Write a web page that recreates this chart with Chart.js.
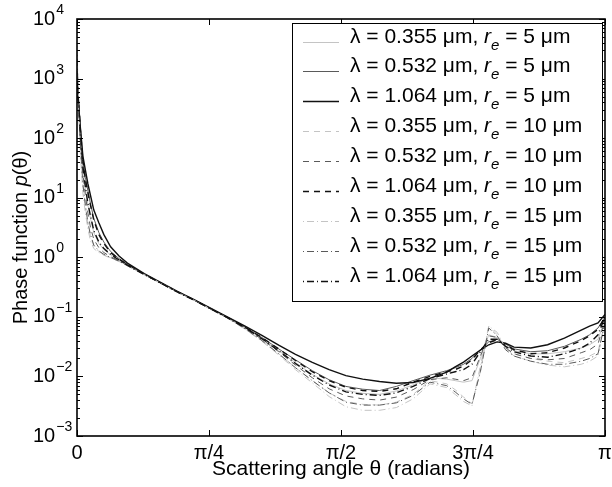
<!DOCTYPE html>
<html>
<head>
<meta charset="utf-8">
<script src="https://cdn.jsdelivr.net/npm/chart.js@4.4.1/dist/chart.umd.min.js"></script>
<style>
  html, body { margin: 0; padding: 0; background: #fff; }
  canvas { display: block; }
</style>
</head>
<body>
<canvas id="c" width="612" height="487"></canvas>
<script>
// ---- data ----
const theta = [0, 0.01, 0.02, 0.035, 0.05, 0.065, 0.08, 0.1, 0.13, 0.16, 0.2, 0.25, 0.3,
  0.4, 0.5, 0.6, 0.7, 0.8, 0.9,
  1.0, 1.1, 1.2, 1.3, 1.4, 1.5, 1.6, 1.7, 1.8, 1.9, 2.0, 2.1, 2.2,
  2.25, 2.3, 2.35, 2.4, 2.45, 2.5, 2.55, 2.6,
  2.7, 2.8, 2.9, 3.0, 3.05, 3.1, 3.1416];

const p_0355_r5 = [1200, 400, 120, 32, 14, 7.5, 4.5, 2.6, 1.7, 1.35, 1.1, 0.9, 0.74,
  0.52, 0.37, 0.26, 0.19, 0.135, 0.095,
  0.066, 0.043, 0.027, 0.017, 0.0108, 0.0075, 0.0058, 0.0052, 0.005, 0.0057, 0.0072, 0.0095, 0.009,
  0.0085, 0.008, 0.0085, 0.02, 0.05, 0.045, 0.033, 0.027,
  0.024, 0.024, 0.026, 0.03, 0.034, 0.042, 0.09];
const p_0532_r5 = [900, 400, 150, 45, 22, 13, 8, 4.5, 2.6, 1.8, 1.25, 0.95, 0.76,
  0.52, 0.37, 0.26, 0.19, 0.135, 0.096,
  0.067, 0.045, 0.029, 0.019, 0.0125, 0.0088, 0.0068, 0.0061, 0.0058, 0.0068, 0.0085, 0.0105, 0.0125,
  0.014, 0.016, 0.020, 0.028, 0.038, 0.042, 0.035, 0.029,
  0.026, 0.027, 0.032, 0.042, 0.05, 0.065, 0.1];
const p_1064_r5 = [700, 350, 150, 50, 29, 17, 11, 6.2, 3.8, 2.4, 1.5, 1.05, 0.8,
  0.53, 0.375, 0.265, 0.192, 0.137, 0.098,
  0.070, 0.049, 0.0335, 0.0235, 0.0172, 0.013, 0.0103, 0.009, 0.0082, 0.0077, 0.0079, 0.0093, 0.0118,
  0.0145, 0.0174, 0.022, 0.0277, 0.034, 0.038, 0.036, 0.031,
  0.030, 0.034, 0.044, 0.060, 0.07, 0.079, 0.11];
const p_0355_r10 = [2500, 350, 70, 16, 7, 3.6, 2.3, 1.55, 1.25, 1.1, 0.98, 0.86, 0.72,
  0.51, 0.365, 0.258, 0.188, 0.133, 0.094,
  0.063, 0.040, 0.024, 0.014, 0.0085, 0.0053, 0.0038, 0.0034, 0.0033, 0.0037, 0.005, 0.0085, 0.0075,
  0.006, 0.0045, 0.0035, 0.012, 0.07, 0.05, 0.03, 0.024,
  0.02, 0.018, 0.017, 0.02, 0.022, 0.026, 0.085];
const p_0532_r10 = [1500, 380, 100, 25, 11, 5.5, 3.2, 2.0, 1.45, 1.2, 1.02, 0.88, 0.73,
  0.515, 0.368, 0.26, 0.189, 0.134, 0.095,
  0.065, 0.042, 0.026, 0.0155, 0.0095, 0.0062, 0.0047, 0.0042, 0.004, 0.0045, 0.006, 0.0088, 0.0095,
  0.009, 0.0085, 0.0095, 0.022, 0.048, 0.045, 0.03, 0.024,
  0.02, 0.019, 0.02, 0.025, 0.028, 0.035, 0.09];
const p_1064_r10 = [850, 380, 140, 42, 20, 12, 7.5, 4.2, 2.4, 1.7, 1.2, 0.93, 0.75,
  0.52, 0.37, 0.262, 0.19, 0.135, 0.096,
  0.067, 0.045, 0.029, 0.0185, 0.012, 0.0085, 0.0066, 0.0058, 0.0056, 0.0062, 0.008, 0.0100, 0.012,
  0.013, 0.015, 0.019, 0.028, 0.037, 0.041, 0.034, 0.028,
  0.024, 0.025, 0.03, 0.04, 0.048, 0.062, 0.1];
const p_0355_r15 = [3500, 300, 55, 12, 5.5, 3.0, 1.9, 1.4, 1.2, 1.08, 0.97, 0.85, 0.72,
  0.51, 0.362, 0.256, 0.187, 0.132, 0.093,
  0.062, 0.039, 0.023, 0.013, 0.0078, 0.0046, 0.0031, 0.0027, 0.0027, 0.003, 0.0042, 0.0075, 0.0065,
  0.005, 0.0038, 0.0032, 0.015, 0.07, 0.055, 0.03, 0.022,
  0.018, 0.0155, 0.0145, 0.016, 0.018, 0.022, 0.085];
const p_0532_r15 = [2500, 350, 75, 17, 7.5, 3.8, 2.4, 1.6, 1.28, 1.12, 0.99, 0.86, 0.72,
  0.51, 0.364, 0.257, 0.188, 0.133, 0.094,
  0.063, 0.040, 0.024, 0.014, 0.0085, 0.0053, 0.0037, 0.0033, 0.0033, 0.0036, 0.0048, 0.008, 0.007,
  0.0055, 0.0042, 0.0034, 0.012, 0.065, 0.048, 0.028, 0.022,
  0.018, 0.016, 0.016, 0.018, 0.02, 0.024, 0.08];
const p_1064_r15 = [1000, 380, 120, 34, 15, 8, 5, 2.8, 1.8, 1.4, 1.12, 0.9, 0.74,
  0.515, 0.366, 0.259, 0.189, 0.134, 0.095,
  0.066, 0.043, 0.027, 0.0165, 0.0105, 0.0072, 0.0055, 0.005, 0.0048, 0.0053, 0.0068, 0.0092, 0.011,
  0.012, 0.013, 0.016, 0.026, 0.042, 0.042, 0.032, 0.026,
  0.022, 0.021, 0.024, 0.03, 0.036, 0.05, 0.1];

const wavelengths = ['0.355', '0.532', '1.064'];
const radii = ['5', '10', '15'];
const xTickValues = [0, Math.PI / 4, Math.PI / 2, 3 * Math.PI / 4, Math.PI];
const xTickLabels = ['0', 'π/4', 'π/2', '3π/4', 'π'];
const yTickExponents = [-3, -2, -1, 0, 1, 2, 3, 4];

// ---- styles ----
const colors = ['#c4c4c4', '#5a5a5a', '#111111'];
const widths = [1, 1, 1.4];
const dashes = [[], [6, 5], [1, 3, 7, 3]];
const seriesByRadius = [
  [p_0355_r5, p_0532_r5, p_1064_r5],
  [p_0355_r10, p_0532_r10, p_1064_r10],
  [p_0355_r15, p_0532_r15, p_1064_r15]
];

const datasets = [];
seriesByRadius.forEach((group, ri) => {
  group.forEach((arr, wi) => {
    datasets.push({
      label: 'λ = ' + wavelengths[wi] + ' μm, r_e = ' + radii[ri] + ' μm',
      lam: wavelengths[wi], rad: radii[ri],
      data: theta.map((t, i) => ({ x: t, y: arr[i] })),
      borderColor: colors[wi],
      borderWidth: widths[wi],
      borderDash: dashes[ri],
      pointRadius: 0,
      fill: false,
      tension: 0,
      order: 20 - datasets.length
    });
  });
});

const FONT = '"Liberation Sans", Arial, Helvetica, sans-serif';

const deco = {
  id: 'deco',
  afterDraw(chart) {
    const ctx = chart.ctx;
    const a = chart.chartArea;
    const xs = chart.scales.x, ys = chart.scales.y;
    ctx.save();
    ctx.setLineDash([]);
    ctx.strokeStyle = '#000';
    ctx.fillStyle = '#000';

    // x ticks (inward, bottom and top)
    ctx.lineWidth = 1;
    xTickValues.forEach(v => {
      const px = Math.round(xs.getPixelForValue(v)) + 0.5;
      ctx.beginPath();
      ctx.moveTo(px, a.bottom); ctx.lineTo(px, a.bottom - 6);
      ctx.moveTo(px, a.top); ctx.lineTo(px, a.top + 6);
      ctx.stroke();
    });
    // y ticks: major + minor (inward, left and right)
    yTickExponents.forEach(e => {
      for (let m = 1; m <= 9; m++) {
        const v = m * Math.pow(10, e);
        if (v > ys.max * 1.0001) continue;
        const py = Math.round(ys.getPixelForValue(v)) + 0.5;
        const len = m === 1 ? 6 : 3;
        ctx.beginPath();
        ctx.moveTo(a.left, py); ctx.lineTo(a.left + len, py);
        ctx.moveTo(a.right, py); ctx.lineTo(a.right - len, py);
        ctx.stroke();
      }
    });

    // frame
    ctx.lineWidth = 1.6;
    ctx.strokeRect(a.left, a.top, a.right - a.left, a.bottom - a.top);

    // x tick labels
    ctx.font = '20px ' + FONT;
    ctx.textAlign = 'center';
    ctx.textBaseline = 'top';
    xTickValues.forEach((v, i) => {
      ctx.fillText(xTickLabels[i], xs.getPixelForValue(v), a.bottom + 7);
    });

    // y tick labels 10^e
    ctx.textAlign = 'left';
    yTickExponents.forEach(e => {
      const py = ys.getPixelForValue(Math.pow(10, e));
      ctx.font = '20px ' + FONT;
      ctx.textBaseline = 'middle';
      ctx.fillText('10', 33, py);
      const w = ctx.measureText('10').width;
      ctx.font = '14px ' + FONT;
      ctx.textBaseline = 'alphabetic';
      ctx.fillText(e < 0 ? '−' + (-e) : String(e), 33 + w + 1, py - 5);
    });

    // x axis title
    ctx.font = '21px ' + FONT;
    ctx.textAlign = 'center';
    ctx.textBaseline = 'middle';
    ctx.fillText('Scattering angle θ (radians)', (a.left + a.right) / 2, 469);

    // y axis title (rotated) with italic p
    ctx.save();
    ctx.translate(21, (a.top + a.bottom) / 2 + 10);
    ctx.rotate(-Math.PI / 2);
    const parts = [['Phase function ', '20px '], ['p', 'italic 20px '], ['(θ)', '20px ']];
    let total = 0;
    parts.forEach(p => { ctx.font = p[1] + FONT; total += ctx.measureText(p[0]).width; });
    let cx = -total / 2;
    ctx.textAlign = 'left';
    ctx.textBaseline = 'middle';
    parts.forEach(p => { ctx.font = p[1] + FONT; ctx.fillText(p[0], cx, 0); cx += ctx.measureText(p[0]).width; });
    ctx.restore();

    // legend
    const lx = 292, ly = 23, lw = 310, lh = 278;
    ctx.fillStyle = '#fff';
    ctx.fillRect(lx, ly, lw, lh);
    ctx.lineWidth = 1;
    ctx.strokeStyle = '#000';
    ctx.strokeRect(lx + 0.5, ly + 0.5, lw, lh);
    chart.data.datasets.forEach((ds, i) => {
      const y = 41.5 + i * 29.9;
      ctx.save();
      ctx.strokeStyle = ds.borderColor;
      ctx.lineWidth = ds.borderWidth;
      ctx.setLineDash(ds.borderDash);
      ctx.beginPath();
      ctx.moveTo(303, Math.round(y) + 0.5);
      ctx.lineTo(339, Math.round(y) + 0.5);
      ctx.stroke();
      ctx.restore();
      ctx.fillStyle = '#000';
      ctx.textAlign = 'left';
      ctx.textBaseline = 'alphabetic';
      let tx = 350;
      const bl = y + 1;
      const segs = [
        ['λ = ' + ds.lam + ' μm, ', '21px ', 0],
        ['r', 'italic 21px ', 0],
        ['e', 'italic 15px ', 7],
        [' = ' + ds.rad + ' μm', '21px ', 0]
      ];
      segs.forEach(s => {
        ctx.font = s[1] + FONT;
        ctx.fillText(s[0], tx, bl + s[2]);
        tx += ctx.measureText(s[0]).width;
      });
    });
    ctx.restore();
  }
};

new Chart(document.getElementById('c'), {
  type: 'line',
  data: { datasets },
  options: {
    responsive: false,
    animation: false,
    devicePixelRatio: 1,
    layout: { padding: { left: 77, right: 7, top: 19, bottom: 51 } },
    plugins: { legend: { display: false }, tooltip: { enabled: false } },
    scales: {
      x: { type: 'linear', display: false, min: 0, max: Math.PI },
      y: { type: 'logarithmic', display: false, min: 1e-3, max: 1e4 }
    }
  },
  plugins: [deco]
});
</script>
</body>
</html>
